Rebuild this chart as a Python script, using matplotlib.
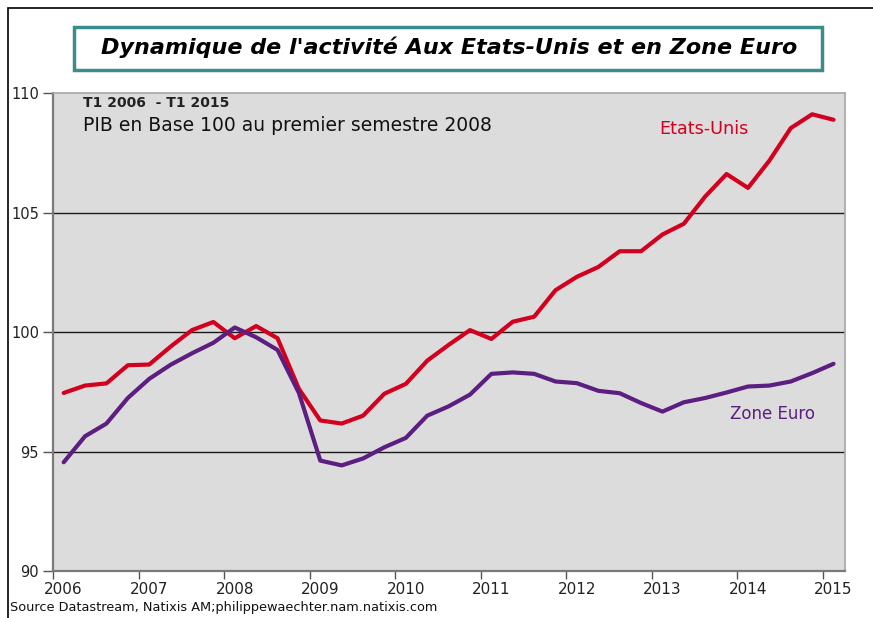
import numpy as np
import matplotlib.pyplot as plt
from matplotlib.patches import Rectangle

# Quarterly GDP, base 100 = H1 2008, 2006Q1 .. 2015Q1
years = np.arange(2006, 2016)
n_quarters = 37
us_gdp = [97.45, 97.76, 97.85, 98.61, 98.64, 99.39, 100.08, 100.42, 99.74,
          100.25, 99.74, 97.62, 96.30, 96.17, 96.50, 97.42, 97.83, 98.80,
          99.46, 100.08, 99.71, 100.43, 100.64, 101.75, 102.31, 102.72,
          103.38, 103.38, 104.08, 104.53, 105.67, 106.61, 106.03, 107.17,
          108.53, 109.11, 108.88]
ez_gdp = [94.55, 95.64, 96.17, 97.24, 98.04, 98.63, 99.11, 99.55, 100.19,
          99.78, 99.25, 97.45, 94.62, 94.42, 94.71, 95.18, 95.57, 96.50,
          96.89, 97.38, 98.25, 98.31, 98.25, 97.93, 97.86, 97.54, 97.44,
          97.03, 96.67, 97.06, 97.24, 97.47, 97.72, 97.76, 97.93, 98.28,
          98.67]
y_ticks = [90, 95, 100, 105, 110]

US_COLOR = "#d2001e"
EZ_COLOR = "#5c1e80"

# points sit in the middle of each quarter
xq = 2006 + 0.125 + 0.25 * np.arange(n_quarters)

fig = plt.figure(figsize=(8.73, 6.18), dpi=100)
ax = fig.add_axes([0.0607, 0.076, 0.968 - 0.0607, 0.8495 - 0.076])
ax.set_facecolor("#dcdcdc")

for v in [95, 100, 105]:
    ax.axhline(v, color="#1a1a1a", lw=1.0, zorder=1)

ax.plot(xq, us_gdp, color=US_COLOR, lw=3.0, solid_capstyle="round", zorder=3)
ax.plot(xq, ez_gdp, color=EZ_COLOR, lw=3.0, solid_capstyle="round", zorder=3)

ax.set_xlim(2006, 2015.26)
ax.set_ylim(90, 110)

ax.set_yticks(y_ticks)
ax.set_yticklabels([str(v) for v in y_ticks])

# tick marks at year starts, labels a bit to the right
ax.set_xticks(years)
ax.set_xticklabels([])
ax.set_xticks(years + 0.125, minor=True)
ax.set_xticklabels([str(y) for y in years], minor=True)
ax.tick_params(axis="x", which="minor", length=0, pad=8, labelsize=11, labelcolor="#222222")
ax.tick_params(axis="x", which="major", length=6, width=1, color="#555555", direction="out")
ax.tick_params(axis="y", length=7, width=1, color="#555555", pad=3, labelsize=10.5, labelcolor="#222222")

for side in ["left", "bottom"]:
    ax.spines[side].set_color("#7a7a7a")
    ax.spines[side].set_linewidth(1.6)
for side in ["top", "right"]:
    ax.spines[side].set_color("#a6a6a6")
    ax.spines[side].set_linewidth(1.2)

ax.text(2006.35, 109.4, "T1 2006  - T1 2015", fontsize=10, fontweight="bold", color="#222222")
ax.text(2006.35, 108.4, "PIB en Base 100 au premier semestre 2008", fontsize=13.5, color="#111111")

ax.text(2013.61, 108.5, "Etats-Unis", color=US_COLOR, fontsize=12.7, ha="center", va="center")
ax.text(2014.41, 96.58, "Zone Euro", color=EZ_COLOR, fontsize=12, ha="center", va="center")

# title box
fig.patches.append(Rectangle((74 / 873, 1 - 70 / 618), (822 - 74) / 873, 43 / 618,
                             transform=fig.transFigure, facecolor="white",
                             edgecolor="#3d8c8c", lw=2.5, zorder=0))
fig.text(449 / 873, 1 - 47 / 618, "Dynamique de l'activité Aux Etats-Unis et en Zone Euro",
         ha="center", va="center", fontsize=16, fontweight="bold", style="italic")

# outer border (left and top edges visible)
fig.patches.append(Rectangle((8 / 873, -0.05), 1.1, 1 - 8 / 618 + 0.05,
                             transform=fig.transFigure, facecolor="none",
                             edgecolor="black", lw=1.2))

fig.text(10 / 873, 1 - 607 / 618, "Source Datastream, Natixis AM;philippewaechter.nam.natixis.com",
         fontsize=9.3, va="center", color="#111111")

fig.savefig("out.png", dpi=100)
